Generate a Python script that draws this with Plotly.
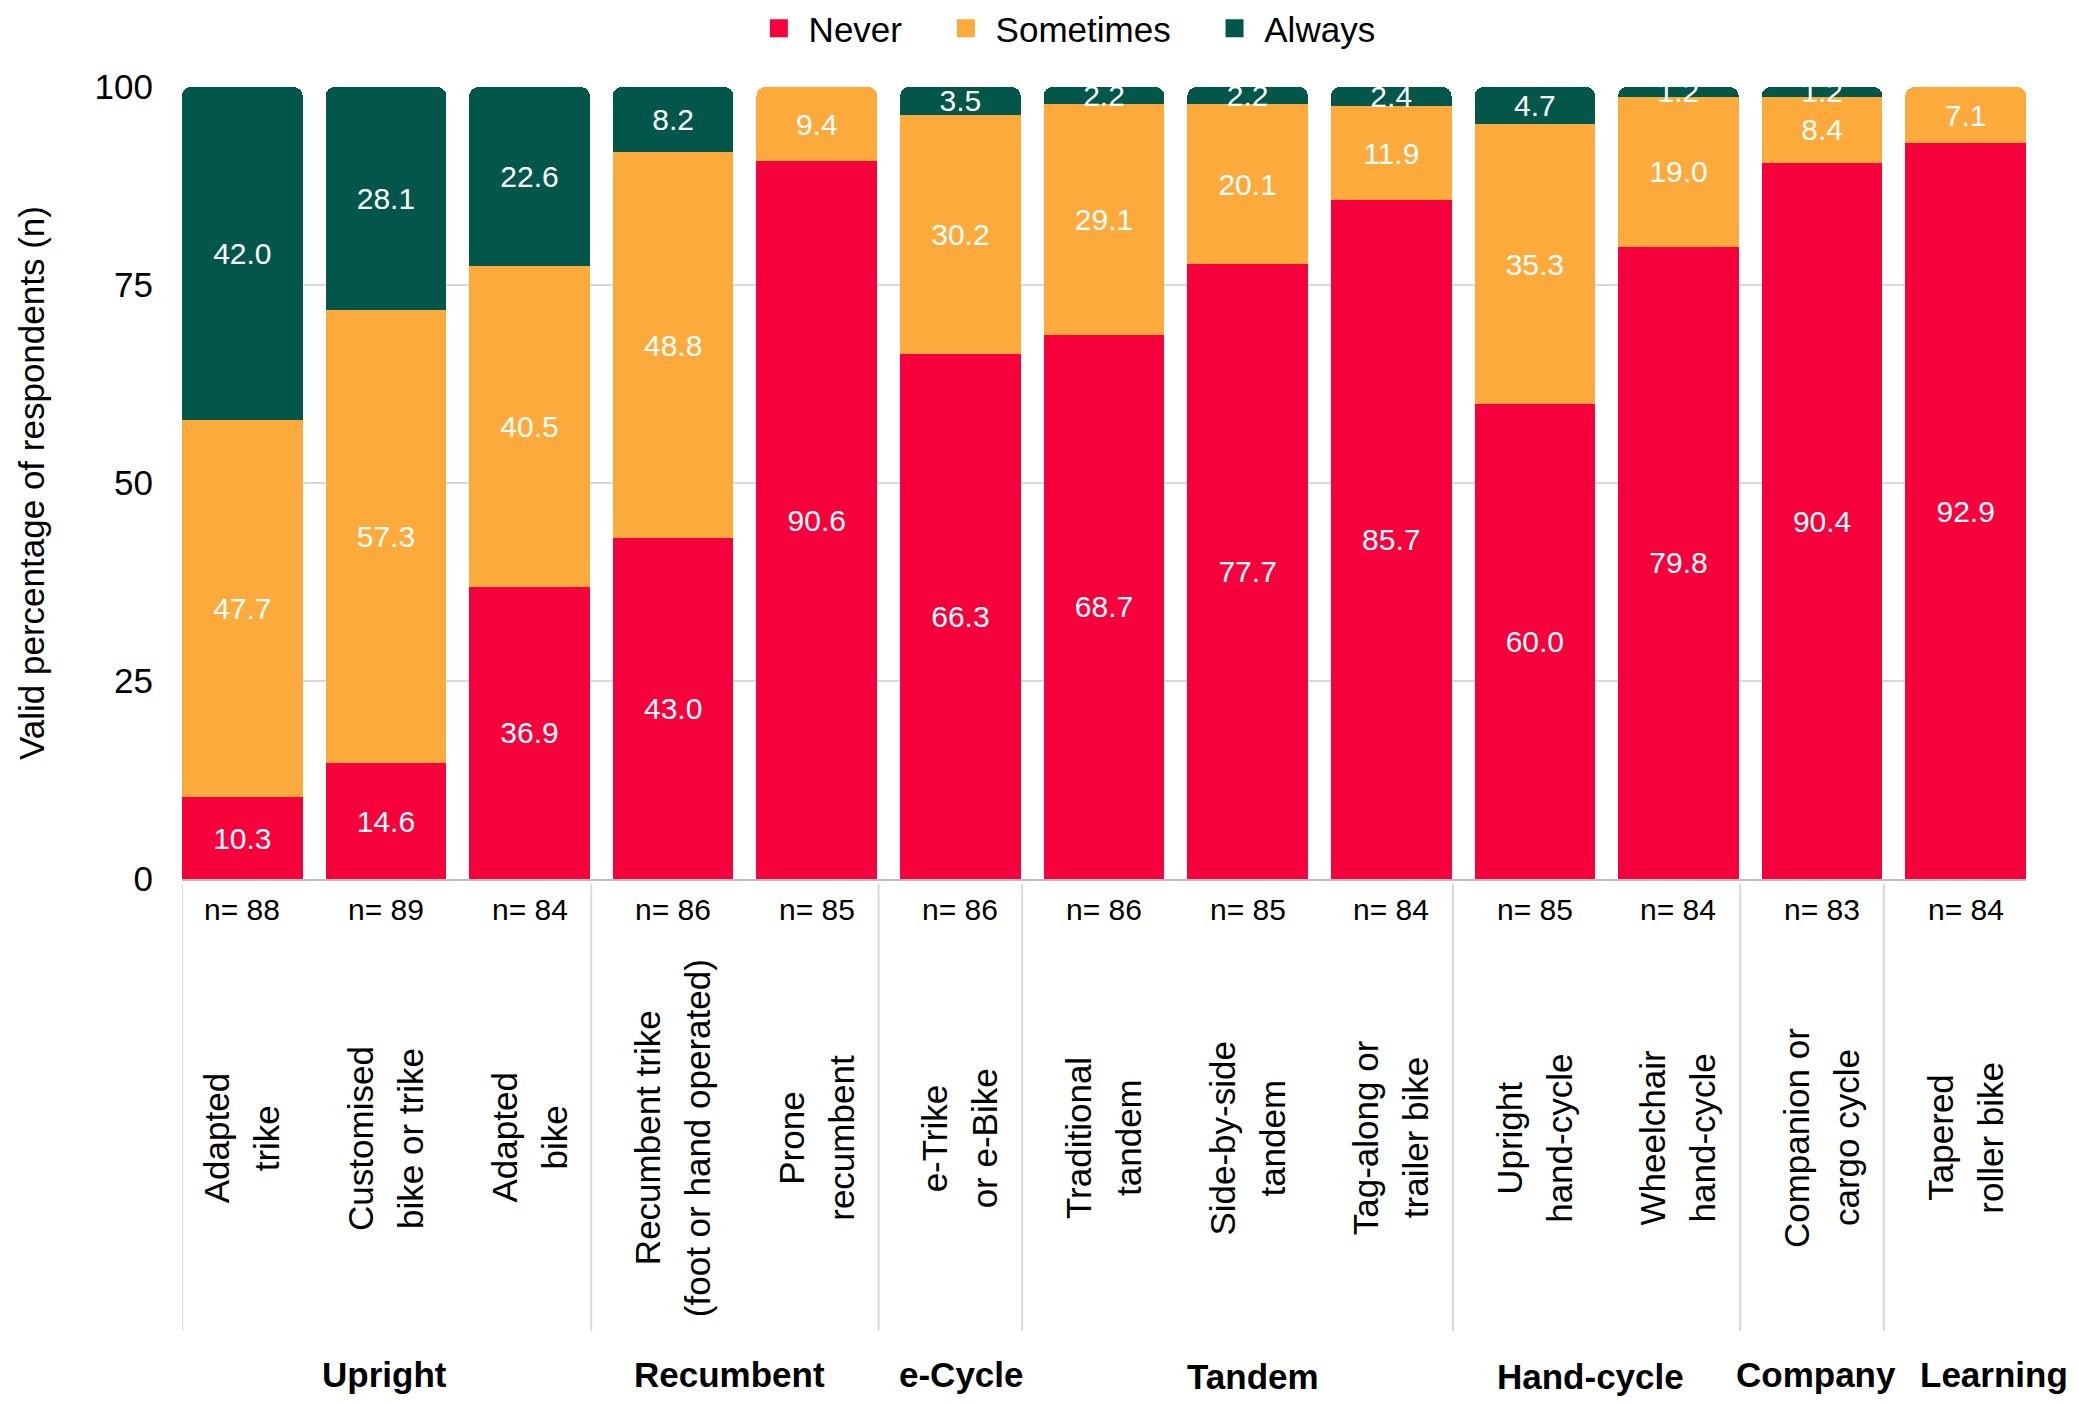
import plotly.graph_objects as go

categories = [
    "Adapted<br>trike", "Customised<br>bike or trike", "Adapted<br>bike",
    "Recumbent trike<br>(foot or hand operated)", "Prone<br>recumbent",
    "e-Trike<br>or e-Bike", "Traditional<br>tandem", "Side-by-side<br>tandem",
    "Tag-along or<br>trailer bike", "Upright<br>hand-cycle", "Wheelchair<br>hand-cycle",
    "Companion or<br>cargo cycle", "Tapered<br>roller bike",
]
n_values = [88, 89, 84, 86, 85, 86, 86, 85, 84, 85, 84, 83, 84]
never = [10.3, 14.6, 36.9, 43.0, 90.6, 66.3, 68.7, 77.7, 85.7, 60.0, 79.8, 90.4, 92.9]
sometimes = [47.7, 57.3, 40.5, 48.8, 9.4, 30.2, 29.1, 20.1, 11.9, 35.3, 19.0, 8.4, 7.1]
always = [42.0, 28.1, 22.6, 8.2, None, 3.5, 2.2, 2.2, 2.4, 4.7, 1.2, 1.2, None]
y_ticks = [0, 25, 50, 75, 100]

groups = ["Upright", "Recumbent", "e-Cycle", "Tandem", "Hand-cycle", "Company", "Learning"]
group_centers = [0.99, 3.39, 5.01, 7.04, 9.39, 10.96, 12.2]
group_y = [-0.626, -0.626, -0.626, -0.628, -0.628, -0.626, -0.626]
separators = [-0.42, 2.43, 4.43, 5.43, 8.43, 10.43, 11.43]

series = [("Never", never, "#F5023C"), ("Sometimes", sometimes, "#FCAA3C"), ("Always", always, "#02574A")]
legend_pad = [4, 4, 0]

FONT = "Liberation Sans, Arial, sans-serif"
NB = "\u00a0"
x_idx = list(range(len(categories)))

fig = go.Figure()
for name, vals, col in series:
    fig.add_trace(go.Bar(
        x=x_idx, y=vals, name=name, marker=dict(color=col, line=dict(width=0)),
        texttemplate="%{y:.1f}", textposition="inside", insidetextanchor="middle",
        textfont=dict(color="white", size=30, family=FONT), showlegend=False,
        constraintext="none", cliponaxis=True,
    ))
for (name, vals, col), pad in zip(series, legend_pad):
    fig.add_trace(go.Scatter(
        x=[None], y=[None], mode="markers", name=NB + name + NB * pad,
        marker=dict(symbol="square", size=14, color=col, line=dict(color=col, width=4)),
        showlegend=True,
    ))

ann = []
for i, (c, n) in enumerate(zip(categories, n_values)):
    ann.append(dict(x=i, y=-0.0391, xref="x", yref="paper", text=f"n= {n}", showarrow=False,
                    font=dict(size=30, family=FONT, color="black"), xanchor="center", yanchor="middle"))
    lines = c.split("<br>")
    for j, ln in enumerate(lines):
        ann.append(dict(x=i, y=-0.327, xref="x", yref="paper", text=ln, showarrow=False, textangle=-90,
                        xshift=(j - (len(lines) - 1) / 2) * 50,
                        font=dict(size=35, family=FONT, color="black"), xanchor="center", yanchor="middle"))
for g, gx, gy in zip(groups, group_centers, group_y):
    ann.append(dict(x=gx, y=gy, xref="x", yref="paper", text=f"<b>{g}</b>", showarrow=False,
                    font=dict(size=35, family=FONT, color="black"), xanchor="center", yanchor="middle"))

shapes = [dict(type="line", xref="x", yref="paper", x0=s, x1=s, y0=-0.0063, y1=-0.5707,
               line=dict(color="#D9D9D9", width=2)) for s in separators]

fig.update_layout(
    width=2063, height=1388, barmode="stack", bargap=0.16, barcornerradius=9,
    plot_bgcolor="white", paper_bgcolor="white",
    margin=dict(l=174, r=45, t=79, b=517, autoexpand=False),
    font=dict(family=FONT, color="black"),
    uniformtext=dict(minsize=30, mode="show"),
    legend=dict(orientation="h", x=0.4815, xanchor="center", y=1.074, yanchor="middle",
                traceorder="normal", font=dict(size=35, family=FONT), itemsizing="trace",
                bgcolor="rgba(0,0,0,0)"),
    annotations=ann, shapes=shapes,
    xaxis=dict(range=[-0.42, 12.42], showticklabels=False, showgrid=False, zeroline=False,
               showline=True, linecolor="#BFBFBF", linewidth=2, ticks=""),
    yaxis=dict(range=[0, 100], tickvals=y_ticks, showgrid=True, gridcolor="#D9D9D9",
               gridwidth=2, zeroline=False, showline=False, ticks="", ticklabelstandoff=28,
               tickfont=dict(size=35, family=FONT),
               title=dict(text="Valid percentage of respondents (n)", font=dict(size=35, family=FONT), standoff=39)),
)

fig.write_html("out.html")
